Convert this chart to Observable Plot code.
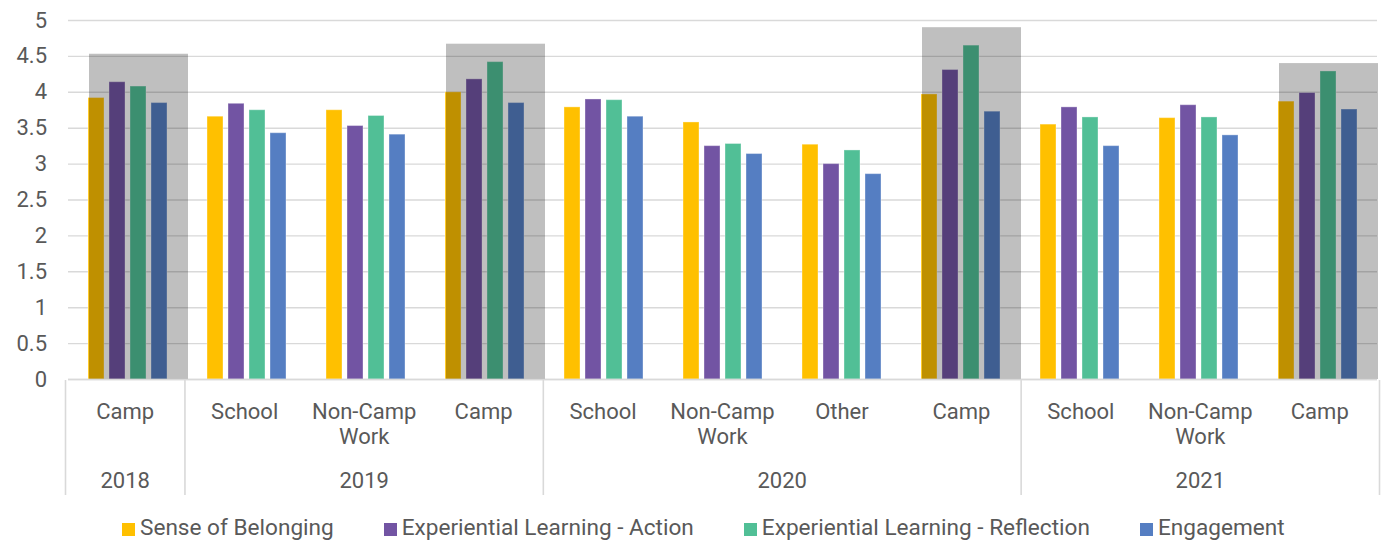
<!DOCTYPE html>
<html>
<head>
<meta charset="utf-8">
<script src="https://cdn.jsdelivr.net/npm/d3@7"></script>
<script src="https://cdn.jsdelivr.net/npm/@observablehq/plot@0.6"></script>
<style>
  html, body { margin: 0; padding: 0; background: #fff; }
  body { width: 1384px; height: 544px; overflow: hidden; font-family: Roboto, "Noto Sans", sans-serif; }
  svg { display: block; }
  #chart { position: relative; z-index: 2; }
  #axis { position: relative; z-index: 1; }
  #legend { display: flex; align-items: center; height: 39px; box-sizing: border-box; padding-left: 122px; padding-top: 6px;
            font-size: 22.6px; color: #595959; font-family: Roboto, sans-serif; line-height: 26px; }
  #legend .item { display: flex; align-items: center; margin-right: 50px; }
  #legend .sw { width: 13px; height: 13px; margin-right: 5px; margin-top: 3px; }
</style>
</head>
<body>
<div id="chart"></div>
<div id="axis"></div>
<div id="legend"></div>
<script>
// ---- data ----
const categories = ["Camp", "School", "Non-Camp\nWork", "Camp", "School", "Non-Camp\nWork", "Other", "Camp", "School", "Non-Camp\nWork", "Camp"];
const years = ["2018", "2019", "2019", "2019", "2020", "2020", "2020", "2020", "2021", "2021", "2021"];
const series = ["Sense of Belonging", "Experiential Learning - Action", "Experiential Learning - Reflection", "Engagement"];
const belonging  = [3.92, 3.66, 3.75, 4.00, 3.79, 3.58, 3.27, 3.97, 3.55, 3.64, 3.87];
const action     = [4.14, 3.84, 3.53, 4.18, 3.90, 3.25, 3.00, 4.31, 3.79, 3.82, 3.99];
const reflection = [4.08, 3.75, 3.67, 4.42, 3.89, 3.28, 3.19, 4.65, 3.65, 3.65, 4.29];
const engagement = [3.85, 3.43, 3.41, 3.85, 3.66, 3.14, 2.86, 3.73, 3.25, 3.40, 3.76];
const highlight  = [4.53, null, null, 4.67, null, null, null, 4.90, null, null, 4.40];
const yTicks = [0, 0.5, 1, 1.5, 2, 2.5, 3, 3.5, 4, 4.5, 5];
const colors = ["#FFC000", "#7254A3", "#51BF96", "#557EC2"];

// ---- build tables ----
const valuesBySeries = [belonging, action, reflection, engagement];
const keys = categories.map((_, i) => i);
const rows = [];
keys.forEach(i => series.forEach((s, j) => rows.push({key: i, series: s, value: valuesBySeries[j][i]})));
const boxRows = keys.filter(i => highlight[i] != null).map(i => ({key: i, value: highlight[i]}));

const catRows = keys.map(i => ({mid: i + 0.5, label: categories[i]}));
const yearNames = [...new Set(years)];
const yearRows = yearNames.map(y => {
  const idx = keys.filter(i => years[i] === y);
  return {year: y, mid: (idx[0] + idx[idx.length - 1] + 1) / 2};
});
const boundaries = [0, ...yearNames.map(y => keys.filter(i => years[i] === y).pop() + 1)];

const textColor = "#595959";
const gridColor = "#D9D9D9";
const fontStack = "Roboto, sans-serif";

// ---- top chart (bars) ----
const barChart = Plot.plot({
  width: 1384, height: 380,
  marginLeft: 65, marginRight: 5, marginTop: 20, marginBottom: 1,
  style: {fontFamily: fontStack, background: "transparent", overflow: "visible"},
  fx: {domain: keys, padding: 0, axis: null},
  x: {domain: series, paddingInner: 0.22, paddingOuter: 0.86, axis: null},
  y: {domain: [0, 5], axis: null},
  color: {domain: series, range: colors},
  marks: [
    Plot.gridY(yTicks, {stroke: gridColor, strokeOpacity: 1, strokeWidth: 1.4}),
    Plot.axisY(yTicks, {tickSize: 0, tickPadding: 21.5, fontSize: 22, fill: textColor, tickFormat: d3.format(""), label: null}),
    Plot.barY(rows, {fx: "key", x: "series", y: "value", fill: "series", stroke: "white", strokeOpacity: 0.35, strokeWidth: 1}),
    Plot.barY(boxRows, {fx: "key", y: "value", fill: "black", fillOpacity: 0.25, insetLeft: 21, insetRight: -1}),
    Plot.ruleY([0], {stroke: gridColor, strokeWidth: 1.6})
  ]
});
document.getElementById("chart").appendChild(barChart);

// ---- bottom two-level category axis ----
const axisChart = Plot.plot({
  width: 1384, height: 125,
  marginLeft: 65, marginRight: 5, marginTop: 0, marginBottom: 10,
  style: {fontFamily: fontStack, background: "transparent"},
  x: {domain: [0, categories.length], axis: null},
  marks: [
    Plot.ruleX(boundaries, {stroke: gridColor, strokeWidth: 1.6}),
    Plot.text(catRows, {x: "mid", text: "label", frameAnchor: "top", lineAnchor: "top", dy: 21,
      fontSize: 22, lineHeight: 25 / 22, fill: textColor}),
    Plot.text(yearRows, {x: "mid", text: "year", frameAnchor: "top", lineAnchor: "top", dy: 92,
      fontSize: 22, fill: textColor})
  ]
});
document.getElementById("axis").appendChild(axisChart);

// ---- legend ----
const legendBox = document.getElementById("legend");
series.forEach((s, j) => {
  const item = document.createElement("div");
  item.className = "item";
  const sw = document.createElement("span");
  sw.className = "sw";
  sw.style.background = colors[j];
  const label = document.createElement("span");
  label.textContent = s;
  item.appendChild(sw);
  item.appendChild(label);
  legendBox.appendChild(item);
});
</script>
</body>
</html>
